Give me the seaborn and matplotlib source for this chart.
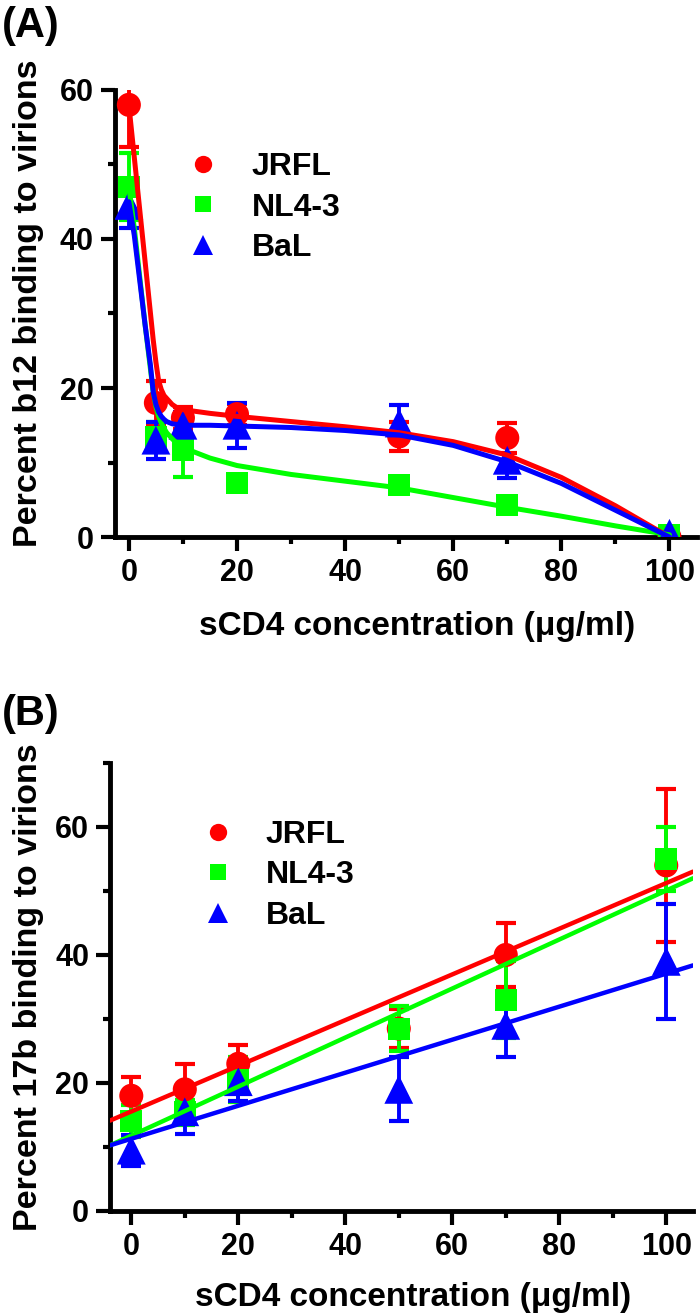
import numpy as np
import pandas as pd
import seaborn as sns
import matplotlib.pyplot as plt
from matplotlib.ticker import MultipleLocator

strains = ["JRFL", "NL4-3", "BaL"]
colors = {"JRFL": "#ff0000", "NL4-3": "#00ff00", "BaL": "#0000ff"}
markers = {"JRFL": "o", "NL4-3": "s", "BaL": "^"}
sizes = {"JRFL": 300, "NL4-3": 250, "BaL": 430}

# Panel A: b12 binding, means and error bars
conc_a = [0, 5, 10, 20, 50, 70, 100]
jrfl_a = [58, 18, 16, 16.5, 13.5, 13.3, 0]
jrfl_a_err = [5.7, 3, 1.5, 1.4, 2, 2, 0.3]
nl43_a = [47, 13.4, 11.7, 7.2, 7, 4.3, 0.3]
nl43_a_err = [4.5, 2, 3.7, 1, 1, 0.7, 0.3]
bal_a = [44.5, 13, 15, 15, 15.3, 10.3, 0.5]
bal_a_err = [3, 2.5, 1.8, 3, 2.4, 2.4, 0.3]

# Panel A: fitted curves, sampled off the figure
fit_x_a = [0, 1, 2, 3, 4, 4.5, 5, 5.5, 6, 6.5, 7, 8, 9, 10,
           15, 20, 30, 40, 50, 60, 70, 80, 90, 100]
fit_jrfl_a = [58, 51, 44, 37, 30, 26.5, 23.5, 21, 19.8, 19, 18.6, 17.8, 17.3, 17.1,
              16.6, 16.2, 15.5, 14.8, 14.0, 12.8, 11.0, 8.0, 4.2, 0]
fit_nl43_a = [47, 41.5, 35, 28.5, 22.5, 19.5, 17.5, 16.2, 15.3, 14.6, 14, 13.2, 12.5, 12,
              10.6, 9.6, 8.4, 7.5, 6.6, 5.3, 4.0, 2.8, 1.5, 0.3]
fit_bal_a = [45, 40.5, 34.5, 28.5, 23, 19.5, 17.8, 16.8, 16.2, 15.8, 15.5, 15.2, 15.1, 15.0,
             15, 14.9, 14.7, 14.3, 13.7, 12.3, 10.1, 7.2, 3.6, 0]

# Panel B: 17b binding
conc_b = [0, 10, 20, 50, 70, 100]
jrfl_b = [18, 19, 23, 28.5, 40, 54]
jrfl_b_err = [3, 4, 3, 3, 5, 12]
nl43_b = [14, 15.4, 20.5, 28.5, 33, 55]
nl43_b_err = [2.5, 2, 3.5, 3.5, 6, 5]
bal_b = [9.5, 15.5, 20.2, 19, 29, 39]
bal_b_err = [2.4, 3.5, 3, 5, 5, 9]


def long_df(x, series):
    rows = []
    for name, (vals, errs) in series.items():
        for xi, v, e in zip(x, vals, errs):
            rows.append({"conc": xi, "pct": v, "err": e, "strain": name})
    return pd.DataFrame(rows)


df_a = long_df(conc_a, {"JRFL": (jrfl_a, jrfl_a_err),
                        "NL4-3": (nl43_a, nl43_a_err),
                        "BaL": (bal_a, bal_a_err)})
df_b = long_df(conc_b, {"JRFL": (jrfl_b, jrfl_b_err),
                        "NL4-3": (nl43_b, nl43_b_err),
                        "BaL": (bal_b, bal_b_err)})
fit_a = pd.DataFrame({
    "conc": fit_x_a * 3,
    "pct": fit_jrfl_a + fit_nl43_a + fit_bal_a,
    "strain": ["JRFL"] * len(fit_x_a) + ["NL4-3"] * len(fit_x_a) + ["BaL"] * len(fit_x_a),
})

sns.set_theme(style="ticks")
plt.rcParams["font.family"] = ["Liberation Sans", "DejaVu Sans"]
plt.rcParams["font.weight"] = "bold"
for key in ["text.color", "axes.labelcolor", "xtick.color", "ytick.color"]:
    plt.rcParams[key] = "black"

fig = plt.figure(figsize=(7, 13.15), dpi=100)
ax_a = fig.add_axes([0.164, 0.5916, 0.831, 0.340])
ax_b = fig.add_axes([0.157, 0.0791, 0.833, 0.3407])


def draw_points(ax, df):
    for s in strains:
        d = df[df.strain == s]
        ax.errorbar(d.conc, d.pct, yerr=d.err, fmt="none", ecolor=colors[s],
                    elinewidth=2.8, capsize=7.5, capthick=3, zorder=2)
    sns.scatterplot(data=df, x="conc", y="pct", hue="strain", style="strain",
                    size="strain", palette=colors, markers=markers, sizes=sizes,
                    hue_order=strains, style_order=strains, size_order=strains,
                    linewidth=0, ax=ax, zorder=3)


def style_axes(ax, ymax, xmin, ylabel, legend_pos, label_xy):
    ax.set_xlim(xmin, 105)
    ax.set_ylim(0, ymax)
    ax.xaxis.set_major_locator(MultipleLocator(20))
    ax.xaxis.set_minor_locator(MultipleLocator(10))
    ax.yaxis.set_major_locator(MultipleLocator(20))
    ax.yaxis.set_minor_locator(MultipleLocator(10))
    sns.despine(ax=ax)
    for sp in ["left", "bottom"]:
        ax.spines[sp].set_linewidth(3.5)
        ax.spines[sp].set_color("black")
    ax.tick_params(which="major", length=10, width=3, pad=5, labelsize=22, color="black")
    ax.tick_params(which="minor", length=5, width=3, color="black")
    for lbl in ax.get_xticklabels() + ax.get_yticklabels():
        lbl.set_fontweight("bold")
    ax.set_xlabel("sCD4 concentration (\u03bcg/ml)", fontsize=24, fontweight="bold")
    ax.set_ylabel(ylabel, fontsize=24.5, fontweight="bold")
    ax.xaxis.set_label_coords(label_xy[0], label_xy[1])
    ax.yaxis.set_label_coords(label_xy[2], label_xy[3])
    old = ax.get_legend()
    handles = old.legend_handles
    labels = [t.get_text() for t in old.get_texts()]
    ax.legend(handles, labels, loc="upper left", bbox_to_anchor=legend_pos,
              frameon=False, markerscale=0.72, handlelength=1.0,
              handletextpad=1.0, labelspacing=0.33, borderpad=0, borderaxespad=0,
              prop={"weight": "bold", "size": 23})
    ax.grid(False)


# Panel A
draw_points(ax_a, df_a)
sns.lineplot(data=fit_a, x="conc", y="pct", hue="strain", palette=colors,
             hue_order=strains, lw=3.6, legend=False, ax=ax_a, zorder=4)
style_axes(ax_a, 60, -2.6, "Percent b12 binding to virions", (0.125, 0.861),
           (0.52, -0.166, -0.122, 0.523))

# Panel B
ax_b.set_xlim(-4, 105)
draw_points(ax_b, df_b)
for s, vals in zip(strains, [jrfl_b, nl43_b, bal_b]):
    sns.regplot(x=conc_b, y=vals, scatter=False, ci=None, truncate=False,
                color=colors[s], line_kws={"lw": 3.2, "zorder": 4}, ax=ax_b)
style_axes(ax_b, 70, -4, "Percent 17b binding to virions", (0.158, 0.873),
           (0.52, -0.158, -0.113, 0.50))

fig.text(0.002, 0.9955, "(A)", fontsize=30, fontweight="bold", va="top", ha="left")
fig.text(0.002, 0.4722, "(B)", fontsize=30, fontweight="bold", va="top", ha="left")

fig.savefig("out.png", dpi=100)
